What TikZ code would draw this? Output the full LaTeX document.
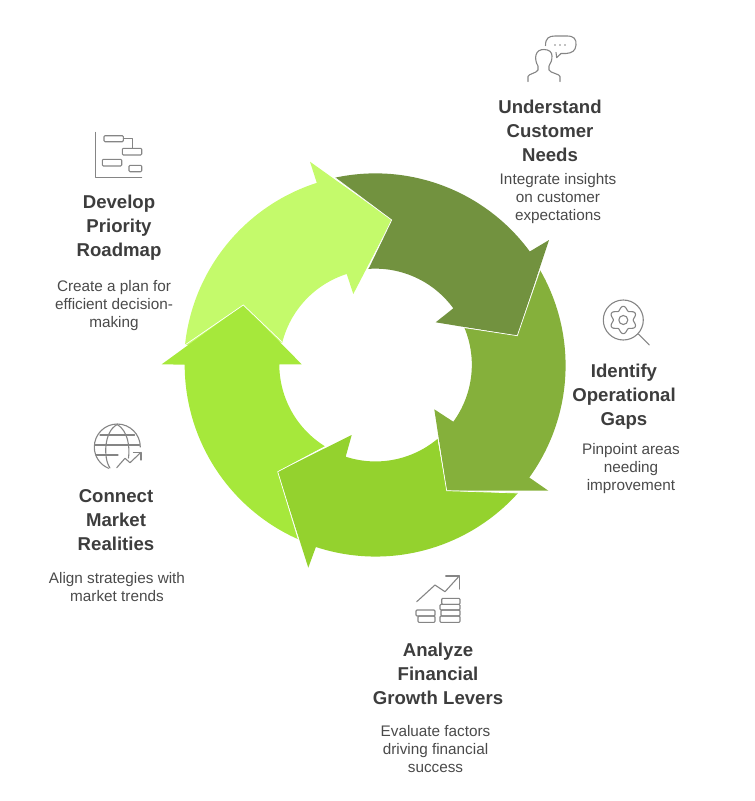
\documentclass[tikz,border=0pt]{standalone}
\usepackage{fontspec}
\setmainfont{Liberation Sans}
\definecolor{arrA}{HTML}{72923F}
\definecolor{arrB}{HTML}{85B03B}
\definecolor{arrC}{HTML}{94D22E}
\definecolor{arrD}{HTML}{A6E83B}
\definecolor{arrE}{HTML}{C4FA6B}
\definecolor{headtxt}{HTML}{3D3D3D}
\definecolor{bodytxt}{HTML}{4A4A4A}
\definecolor{iconline}{HTML}{858585}
\tikzset{
  headlabel/.style={font=\fontsize{18.6}{24}\selectfont\bfseries,text=headtxt,align=center,inner sep=0pt},
  bodylabel/.style={font=\fontsize{15.3}{18}\selectfont,text=bodytxt,align=center,inner sep=0pt},
  edgeline/.style={white,line width=0.7pt,line join=miter},
  iconstroke/.style={iconline,line width=1.1pt,line join=round,line cap=round,fill=none},
}
\begin{document}
\begin{tikzpicture}[x=1pt,y=-1pt]
\useasboundingbox (0,0) rectangle (755,801);
\coordinate (c) at (375.5,365);
% light arrow (Develop)
\fill[arrE] (185,345) arc[start angle=174,end angle=107.8,radius=191.3pt]
  -- (310,161.7) -- (391.7,220) -- (353.3,294) -- (346.7,274)
  arc[start angle=107.6,end angle=166,radius=96.5pt] -- cycle;
% dark arrow (Understand)
\fill[arrA] (335,177.7) arc[start angle=102.2,end angle=36.3,radius=191.5pt]
  -- (549,240) -- (517.3,335.7) -- (435.7,322.3) -- (453.3,308.3)
  arc[start angle=36.1,end angle=94.3,radius=96.5pt] -- (391.7,220) -- cycle;
% arrow Identify
\fill[arrB] (540,270) arc[start angle=30,end angle=-35.9,radius=191pt]
  -- (548.3,490.7) -- (446.7,490.7) -- (434.3,409.3) -- (453.3,421.7)
  arc[start angle=-36.1,end angle=22.6,radius=96.5pt] -- (517.3,335.7) -- cycle;
% arrow Analyze
\fill[arrC] (518,493) arc[start angle=-41.9,end angle=-108.2,radius=191.3pt]
  -- (308.3,567.7) -- (277.7,471.7) -- (351.7,435) -- (345.7,456.7)
  arc[start angle=-108,end angle=-50,radius=96.5pt] -- (446.7,490.7) -- cycle;
% arrow Connect
\fill[arrD] (298.3,539.3) arc[start angle=246.1,end angle=180,radius=191pt]
  -- (161.7,364.3) -- (243.3,305) -- (301.7,364.3) -- (279.3,364.3)
  arc[start angle=180,end angle=238.3,radius=96.5pt] -- (277.7,471.7) -- cycle;
% thin light edges of the heads
\draw[edgeline] (335,177.7) -- (391.7,220) -- (368.3,268.3);
\draw[edgeline] (540,270) -- (517.3,335.7) -- (465,327.7);
\draw[edgeline] (518,493) -- (446.7,490.7) -- (438.3,440);
\draw[edgeline] (298.3,539.3) -- (277.7,471.7) -- (325,446.7);
\draw[edgeline] (185,345) -- (243.3,305) -- (281.7,341.7);
% person icon
\draw[iconstroke] (545.5,45.5) .. controls (545.5,38) and (549,36) .. (555,36) -- (567,36)
  .. controls (574,36) and (576.5,39) .. (576,45)
  .. controls (575.5,51) and (572,53) .. (566,53.5) -- (561,53.5) -- (556.7,57.7) -- (556,52.5);
\fill[iconline] (555,45) circle[radius=0.9pt] (560,45) circle[radius=0.9pt] (565,45) circle[radius=0.9pt];
\draw[iconstroke] (528,81.5) -- (528,76.5) .. controls (528,74) and (537,73) .. (538,70)
  -- (538,66) .. controls (536,63) and (535,58) .. (536,55)
  .. controls (537,51) and (540,49.5) .. (544,49.5)
  .. controls (549,49.5) and (552,52) .. (552,56)
  .. controls (552,60) and (551,63) .. (549,66) -- (549,70)
  .. controls (550,73) and (560,74) .. (560,76.5) -- (560,81.5);
% gantt icon
\draw[iconstroke] (95.7,132.3) -- (95.7,177.3) -- (141.7,177.3);
\draw[iconstroke,rounded corners=1pt] (104,135.7) rectangle (123.3,141.7);
\draw[iconstroke,rounded corners=1pt] (122.3,148.3) rectangle (141.7,155);
\draw[iconstroke,rounded corners=1pt] (102.3,159.3) rectangle (121.7,166);
\draw[iconstroke,rounded corners=1pt] (129,165.3) rectangle (141.7,171.7);
\draw[iconstroke] (123.3,138.3) -- (132.7,138.3) -- (132.7,148.3);
% gear search icon
\draw[iconstroke] (623.3,320) circle[radius=20pt];
\draw[iconstroke] (623.3,320) circle[radius=4.5pt];
\draw[iconstroke] (638.3,334) -- (649.3,345);
\draw[iconstroke,smooth,samples=73,domain=0:360]
  plot ({623.3+(11.8-1.9*cos(6*\x))*cos(\x)},{320+(11.8-1.9*cos(6*\x))*sin(\x)});
% globe icon
\draw[iconstroke] (140.3,447) arc[start angle=0,end angle=248,radius=23pt];
\draw[iconstroke] (117.3,424.5) .. controls (104,431) and (103,458) .. (110,468);
\draw[iconstroke] (117.3,424.5) .. controls (128,431) and (130,447) .. (128.5,458);
\draw[iconstroke] (100,435) -- (134.5,435);
\draw[iconstroke] (95,445) -- (139.5,445);
\draw[iconstroke] (96,455) -- (118,455);
\draw[iconstroke] (116.7,467.7) -- (125,458.3) -- (130,462.7) -- (141,452.3);
\draw[iconstroke] (133.3,452.3) -- (141,452.3) -- (141,460);
% coins icon
\draw[iconstroke] (416.7,601.7) -- (435,585) -- (445,591.7) -- (459.3,576);
\draw[iconstroke] (445.7,576) -- (459.3,576) -- (459.3,589);
\foreach \xa/\ya/\xb/\yb in {441.7/598.3/460/604.3,440/604.3/460/610,441/610/460/616,440/616/460/622.3,416/610/435/616,418/616/435/622.3}{
  \draw[iconstroke,rounded corners=1pt] (\xa,\ya) rectangle (\xb,\yb);
}
% labels
\node[headlabel] (h1) at (550,131) {Understand\\Customer\\Needs};
\node[bodylabel] (b1) at (558,198.5) {Integrate insights\\on customer\\expectations};
\node[headlabel] (h2) at (624,397) {Identify\\Operational\\Gaps};
\node[bodylabel] (b2) at (631,468.5) {Pinpoint areas\\needing\\improvement};
\node[headlabel] (h3) at (438,674) {Analyze\\Financial\\Growth Levers};
\node[bodylabel] (b3) at (435.5,749) {Evaluate factors\\driving financial\\success};
\node[headlabel] (h4) at (116,520) {Connect\\Market\\Realities};
\node[bodylabel] (b4) at (117,587) {Align strategies with\\market trends};
\node[headlabel] (h5) at (119,228) {Develop\\Priority\\Roadmap};
\node[bodylabel] (b5) at (114,305.5) {Create a plan for\\efficient decision-\\making};
\end{tikzpicture}
\end{document}
